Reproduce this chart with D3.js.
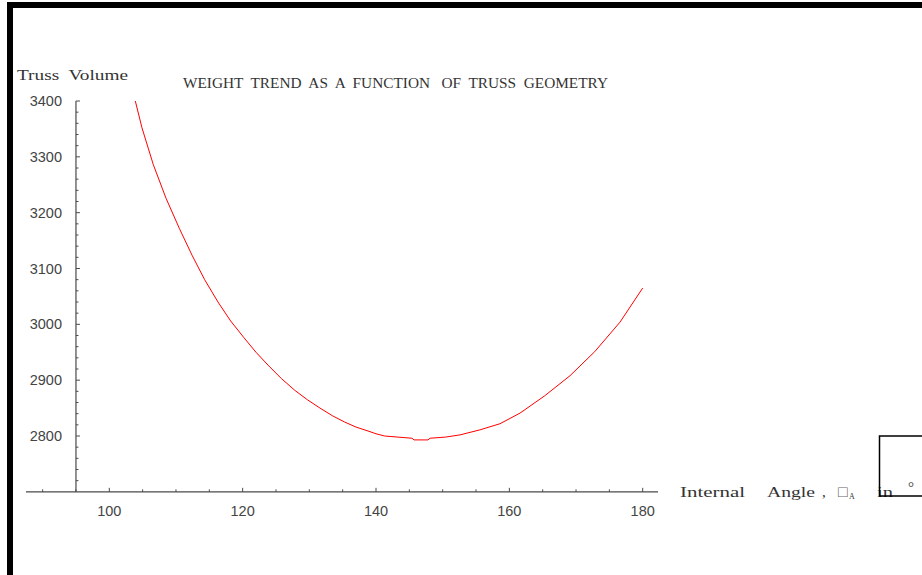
<!DOCTYPE html>
<html><head><meta charset="utf-8">
<script src="https://cdn.jsdelivr.net/npm/d3@7"></script>
<style>html,body{margin:0;padding:0;background:#fff;overflow:hidden}text{white-space:pre}</style>
</head><body>
<script>
// Data
const angles  = [103.9,104.9,106.6,108.5,110.5,112.4,114.3,116.3,118.2,120.2,122.0,123.8,125.8,127.8,129.7,131.6,133.5,135.3,137.0,138.8,140.0,141.3,143.3,145.4,145.7,147.8,148.1,150.4,152.6,155.6,158.6,161.6,165.3,169.1,172.8,176.6,180.0];
const volumes = [3400,3352,3286,3226,3172,3124,3080,3040,3006,2976,2950,2927,2903,2882,2865,2850,2836,2825,2816,2809,2804,2800,2798,2796,2793,2793,2796,2798,2802,2811,2822,2841,2872,2908,2951,3004,3065];
const xMajorTicks = [100,120,140,160,180];
const xMinorTicks = [90,95,105,110,115,125,130,135,145,150,155,165,170,175];
const yMajorTicks = [2800,2900,3000,3100,3200,3300,3400];
const yMinorTicks = [2720,2740,2760,2780,2820,2840,2860,2880,2920,2940,2960,2980,3020,3040,3060,3080,3120,3140,3160,3180,3220,3240,3260,3280,3320,3340,3360,3380];
const titleText = "WEIGHT  TREND  AS  A  FUNCTION   OF  TRUSS  GEOMETRY";
const yAxisTitle = "Truss  Volume";

const W = 922, H = 575;
const svg = d3.select("body").append("svg").attr("width", W).attr("height", H);

const x = d3.scaleLinear().domain([100, 180]).range([109.3, 642.7]);
const y = d3.scaleLinear().domain([2800, 3400]).range([436, 101]);
const axisColor = "#4a4a4a";
const xOrigin = 95, yOrigin = 2700;

// frame
svg.append("rect").attr("x", 7).attr("y", 2).attr("width", W).attr("height", 6).attr("fill", "#000");
svg.append("rect").attr("x", 7).attr("y", 2).attr("width", 6).attr("height", H).attr("fill", "#000");

// x axis
const gx = svg.append("g");
gx.append("line").attr("x1", x(87.5)).attr("x2", x(182.3)).attr("y1", y(yOrigin)).attr("y2", y(yOrigin))
  .attr("stroke", axisColor).attr("stroke-width", 1.2);
gx.selectAll(".xmaj").data(xMajorTicks).join("line")
  .attr("x1", d => x(d)).attr("x2", d => x(d)).attr("y1", y(yOrigin)).attr("y2", y(yOrigin) - 4)
  .attr("stroke", axisColor);
gx.selectAll(".xmin").data(xMinorTicks).join("line")
  .attr("x1", d => x(d)).attr("x2", d => x(d)).attr("y1", y(yOrigin)).attr("y2", y(yOrigin) - 2.5)
  .attr("stroke", axisColor);
gx.selectAll(".xlab").data(xMajorTicks).join("text")
  .attr("x", d => x(d)).attr("y", 516).attr("text-anchor", "middle")
  .attr("font-family", "Liberation Sans, Arial, sans-serif").attr("font-size", 14.5).attr("fill", "#444")
  .text(d => d);

// y axis
const gy = svg.append("g");
gy.append("line").attr("x1", x(xOrigin)).attr("x2", x(xOrigin)).attr("y1", y(yOrigin)).attr("y2", y(3400))
  .attr("stroke", axisColor).attr("stroke-width", 1.2);
gy.selectAll(".ymaj").data(yMajorTicks).join("line")
  .attr("x1", x(xOrigin)).attr("x2", x(xOrigin) + 4).attr("y1", d => y(d)).attr("y2", d => y(d))
  .attr("stroke", axisColor);
gy.selectAll(".ymin").data(yMinorTicks).join("line")
  .attr("x1", x(xOrigin)).attr("x2", x(xOrigin) + 2.5).attr("y1", d => y(d)).attr("y2", d => y(d))
  .attr("stroke", axisColor);
gy.selectAll(".ylab").data(yMajorTicks).join("text")
  .attr("x", 62).attr("y", d => y(d) + 5).attr("text-anchor", "end")
  .attr("font-family", "Liberation Sans, Arial, sans-serif").attr("font-size", 14.5).attr("fill", "#444")
  .text(d => d);

// curve
const line = d3.line().x((d, i) => x(angles[i])).y(d => y(d));
svg.append("path").attr("d", line(volumes)).attr("fill", "none").attr("stroke", "#ff0000").attr("stroke-width", 1);

// texts
const serif = "Liberation Serif, Times New Roman, serif";
svg.append("text").attr("x", 183).attr("y", 88).attr("font-family", serif).attr("font-size", 15)
  .attr("fill", "#333").attr("textLength", 425).attr("lengthAdjust", "spacingAndGlyphs").text(titleText);
svg.append("text").attr("x", 17).attr("y", 80).attr("font-family", serif).attr("font-size", 15)
  .attr("fill", "#333").attr("textLength", 111).attr("lengthAdjust", "spacingAndGlyphs").text(yAxisTitle);

const xl = svg.append("text").attr("y", 497).attr("font-family", serif).attr("font-size", 15).attr("fill", "#333");
xl.append("tspan").attr("x", 680).attr("textLength", 65).attr("lengthAdjust", "spacingAndGlyphs").text("Internal");
xl.append("tspan").attr("x", 767).attr("textLength", 48).attr("lengthAdjust", "spacingAndGlyphs").text("Angle");
xl.append("tspan").attr("x", 822).text(",");
xl.append("tspan").attr("x", 838).attr("font-size", 16).attr("fill", "#666").text("\u25A1");
xl.append("tspan").attr("x", 849).attr("dy", 2).attr("font-size", 8).text("A");
xl.append("tspan").attr("x", 877).attr("dy", -2).attr("textLength", 16).attr("lengthAdjust", "spacingAndGlyphs").text("in");
xl.append("tspan").attr("x", 908).attr("dy", -5).text("\u00B0");

// box at right
svg.append("path").attr("d", "M922,436 H879.5 V496 H922").attr("fill", "none").attr("stroke", "#000").attr("stroke-width", 1.5);
</script>
</body></html>
